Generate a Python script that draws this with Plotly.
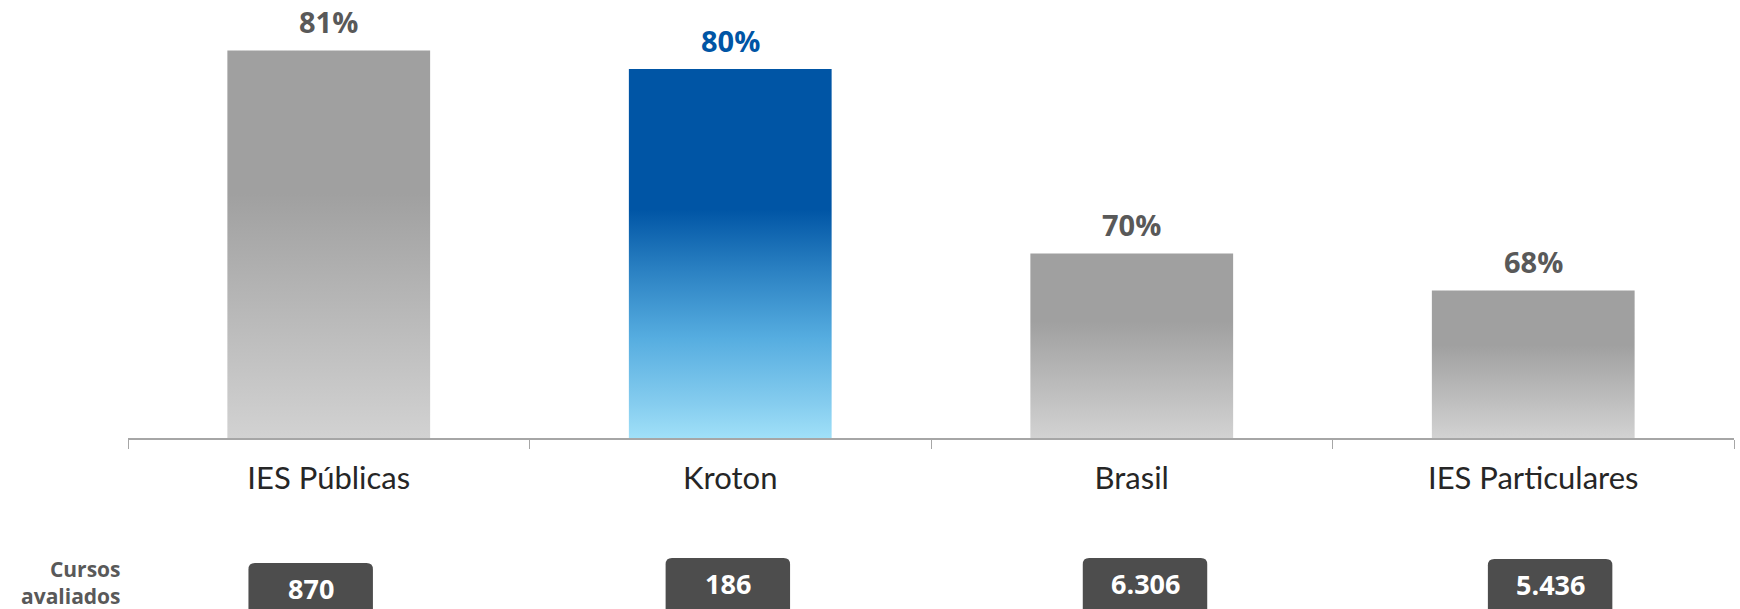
import plotly.graph_objects as go

# ---- data ----
categories = ["IES Públicas", "Kroton", "Brasil", "IES Particulares"]
values = [81, 80, 70, 68]
value_labels = ["81%", "80%", "70%", "68%"]
cursos_avaliados = ["870", "186", "6.306", "5.436"]

# ---- styles ----
W, H = 1740, 609
ML, MR, MT, MB = 128, 6, 10, 171
PLOT_H = H - MT - MB
Y0 = 60
PX_PER_UNIT = 18.45
Y1 = Y0 + PLOT_H / PX_PER_UNIT
BAR_WIDTH = 0.505

gray_scale = [[0, "#d2d2d2"], [0.63, "#a0a0a0"], [1, "#a0a0a0"]]
blue_scale = [[0, "#a0e0f8"], [0.09, "#86cdef"], [0.27, "#56ade0"],
              [0.45, "#2c82c3"], [0.62, "#0055a5"], [1, "#0055a5"]]
bar_scales = [gray_scale, blue_scale, gray_scale, gray_scale]
label_colors = ["#595959", "#0055a5", "#595959", "#595959"]

box_offsets = [-0.045, -0.006, 0.033, 0.042]
box_top_px = [563, 558, 558, 559]
BOX_HALF = 0.155


def px_to_paper(py):
    return (H - MB - py) / PLOT_H


fig = go.Figure()

for i, (cat, v) in enumerate(zip(categories, values)):
    x0, x1 = i - BAR_WIDTH / 2, i + BAR_WIDTH / 2
    fig.add_trace(go.Scatter(
        x=[x0, x1, x1, x0, x0],
        y=[Y0, Y0, v, v, Y0],
        mode="none",
        fill="toself",
        fillgradient=dict(type="vertical", colorscale=bar_scales[i], start=Y0, stop=v),
        name=cat,
        hoverinfo="skip",
        showlegend=False,
    ))

annotations = []
for i, (v, lab) in enumerate(zip(values, value_labels)):
    annotations.append(dict(
        x=i, y=v, xref="x", yref="y", text=f"<b>{lab}</b>", showarrow=False,
        yanchor="middle", yshift=29,
        font=dict(family="Open Sans", size=29, color=label_colors[i]),
    ))

shapes = []
for i, txt in enumerate(cursos_avaliados):
    c = i + box_offsets[i]
    xa, xb = c - BOX_HALF, c + BOX_HALF
    yt = px_to_paper(box_top_px[i])
    yb = px_to_paper(H + 20)
    rx, ry = 0.016, 0.015
    path = (f"M {xa},{yb} L {xa},{yt - ry} Q {xa},{yt} {xa + rx},{yt} "
            f"L {xb - rx},{yt} Q {xb},{yt} {xb},{yt - ry} L {xb},{yb} Z")
    shapes.append(dict(type="path", path=path, xref="x", yref="paper",
                       fillcolor="#4d4d4d", line=dict(width=0), layer="above"))
    annotations.append(dict(
        x=c, y=px_to_paper(box_top_px[i] + 25), xref="x", yref="paper",
        text=f"<b>{txt}</b>", showarrow=False, yanchor="middle",
        font=dict(family="Open Sans", size=27, color="#ffffff"),
    ))

annotations.append(dict(
    x=-0.003, y=px_to_paper(582.5), xref="paper", yref="paper",
    text="<b>Cursos<br>avaliados</b>", showarrow=False, xanchor="right",
    yanchor="middle", align="right",
    font=dict(family="Open Sans", size=21, color="#595959"),
))

fig.update_layout(
    width=W, height=H,
    margin=dict(l=ML, r=MR, t=MT, b=MB),
    paper_bgcolor="white", plot_bgcolor="white",
    showlegend=False,
    annotations=annotations,
    shapes=shapes,
    xaxis=dict(
        range=[-0.5, 3.5], tickmode="array", tickvals=list(range(len(categories))),
        ticktext=categories, ticks="", showgrid=False, zeroline=False,
        showline=True, linecolor="#a6a6a6", linewidth=1.5,
        tickfont=dict(family="Lato", size=31, color="#262626"),
        ticklabelstandoff=12,
        minor=dict(tickmode="linear", tick0=-0.5, dtick=1, ticks="outside",
                   ticklen=9, tickcolor="#a6a6a6", tickwidth=1.2, showgrid=False),
        fixedrange=True,
    ),
    yaxis=dict(range=[Y0, Y1], visible=False, fixedrange=True),
)

fig.write_html(
    "out.html",
    config={"displayModeBar": False},
    post_script="document.body.style.margin='0px';document.body.style.overflow='hidden';",
)
